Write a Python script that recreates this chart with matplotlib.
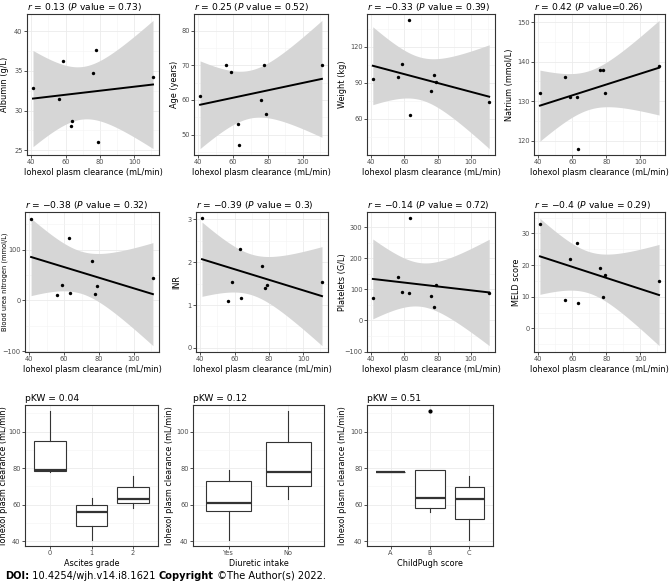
import numpy as np
import matplotlib.pyplot as plt

# iohexol plasma clearance (mL/min) for the 9 patients
clearance = np.array([41, 56, 58.5, 63, 63.5, 76, 78, 79, 111])

albumin = np.array([32.9, 31.5, 36.3, 28.1, 28.7, 34.7, 37.7, 26.0, 34.2])
age = np.array([61, 70, 68, 53, 47, 60, 70, 56, 70])
weight = np.array([93, 95, 106, 142, 63, 83, 97, 91, 74])
natrium = np.array([132, 136, 131, 131, 118, 138, 138, 132, 139])
bun = np.array([160, 11, 31, 122, 15, 78, 12, 28, 44])
inr = np.array([3.02, 1.10, 1.54, 2.30, 1.16, 1.92, 1.40, 1.47, 1.54])
platelets = np.array([72, 140, 90, 88, 328, 79, 42, 113, 88])
meld = np.array([33, 9, 22, 27, 8, 19, 10, 17, 15])

ascites = np.array(["1", "1", "2", "2", "1", "2", "0", "0", "0"])
diuretic = np.array(["Yes", "Yes", "Yes", "No", "Yes", "Yes", "No", "Yes", "No"])
childpugh = np.array(["C", "B", "B", "C", "B", "C", "A", "B", "B"])

scatter_panels = [
    (albumin, "Albumin (g/L)", "$r$ = 0.13 ($P$ value = 0.73)", [25, 30, 35, 40]),
    (age, "Age (years)", "$r$ = 0.25 ($P$ value = 0.52)", [50, 60, 70, 80]),
    (weight, "Weight (kg)", "$r$ = \u22120.33 ($P$ value = 0.39)", [30, 60, 90, 120]),
    (natrium, "Natrium (mmol/L)", "$r$ = 0.42 ($P$ value=0.26)", [120, 130, 140, 150]),
    (bun, "Blood urea nitrogen (mmol/L)", "$r$ = \u22120.38 ($P$ value = 0.32)", [-100, 0, 100]),
    (inr, "INR", "$r$ = \u22120.39 ($P$ value = 0.3)", [0, 1, 2, 3]),
    (platelets, "Platelets (G/L)", "$r$ = \u22120.14 ($P$ value = 0.72)", [-100, 0, 100, 200, 300]),
    (meld, "MELD score", "$r$ = \u22120.4 ($P$ value = 0.29)", [0, 10, 20, 30]),
]

box_panels = [
    (ascites, ["0", "1", "2"], "Ascites grade", "pKW = 0.04"),
    (diuretic, ["Yes", "No"], "Diuretic intake", "pKW = 0.12"),
    (childpugh, ["A", "B", "C"], "ChildPugh score", "pKW = 0.51"),
]

W, H = 669, 583
fig = plt.figure(figsize=(W / 100, H / 100), dpi=100)

# axes boxes in pixels: (left, right, top, bottom)
boxes = [
    (27, 159, 14, 155), (194, 328, 14, 155), (367, 495, 14, 155), (534, 665, 14, 155),
    (25, 159, 212, 352), (196, 328, 212, 352), (367, 495, 212, 352), (534, 665, 212, 352),
    (25, 158, 405, 546), (193, 324, 405, 546), (367, 493, 405, 546),
]
# right edge (px) of each rotated y label
ylab_x = [9, 179, 347, 514, 8, 181, 347, 521, 8, 174, 347]

LAB = 5.9
TIT = 6.6
TICK = 4.8

def make_ax(k):
    l, r, t, bt = boxes[k]
    ax = fig.add_axes([l / W, 1 - bt / H, (r - l) / W, (bt - t) / H])
    ax.yaxis.set_label_coords((ylab_x[k] - l) / (r - l), 0.5)
    return ax

def style(ax):
    for s in ax.spines.values():
        s.set_color("#333333")
        s.set_linewidth(0.8)
    ax.tick_params(which="major", length=2.2, width=0.6, color="#333333",
                   labelsize=TICK, labelcolor="#4D4D4D", pad=1.0)
    ax.tick_params(which="minor", length=0)
    ax.grid(which="major", color="#EBEBEB", linewidth=0.6)
    ax.grid(which="minor", color="#F4F4F4", linewidth=0.4)
    ax.set_axisbelow(True)

T_975 = 2.3646  # t quantile, df = 7

for i, (yv, ylab, title, yt) in enumerate(scatter_panels):
    ax = make_ax(i)
    style(ax)
    x = clearance
    n = len(x)
    b, a = np.polyfit(x, yv, 1)
    resid = yv - (a + b * x)
    s = np.sqrt(np.sum(resid ** 2) / (n - 2))
    xs = np.linspace(x.min(), x.max(), 80)
    fit = a + b * xs
    se = s * np.sqrt(1 / n + (xs - x.mean()) ** 2 / np.sum((x - x.mean()) ** 2))
    lo, hi = fit - T_975 * se, fit + T_975 * se
    ax.fill_between(xs, lo, hi, color="#D6D6D6", linewidth=0)
    ax.plot(xs, fit, color="black", linewidth=1.4)
    ax.scatter(x, yv, s=6, color="black", zorder=3, linewidths=0)
    ax.set_xticks([40, 60, 80, 100])
    ax.set_xticks([50, 70, 90, 110], minor=True)
    ax.set_yticks(yt)
    ax.set_yticklabels([str(v).replace("-", "\u2212") for v in yt])
    step = yt[1] - yt[0]
    ax.set_yticks([v + step / 2 for v in yt] + [yt[0] - step / 2], minor=True)
    # limits last: set_yticks would otherwise widen them
    ymin = min(yv.min(), lo.min())
    ymax = max(yv.max(), hi.max())
    pad = 0.05 * (ymax - ymin)
    ax.set_ylim(ymin - pad, ymax + pad)
    xpad = 0.05 * (x.max() - x.min())
    ax.set_xlim(x.min() - xpad, x.max() + xpad)
    ax.set_xlabel("Iohexol plasm clearance (mL/min)", fontsize=LAB, labelpad=1.5)
    # the long BUN label is set smaller in the original
    ax.set_ylabel(ylab, fontsize=4.8 if len(ylab) > 20 else LAB)
    ax.set_title(title, fontsize=TIT, loc="left", pad=3)

for j, (grp, cats, xlab, title) in enumerate(box_panels):
    ax = make_ax(8 + j)
    style(ax)
    data = [clearance[grp == c] for c in cats]
    ax.boxplot(data, positions=np.arange(1, len(cats) + 1), widths=0.75,
               patch_artist=True,
               boxprops=dict(facecolor="white", edgecolor="#333333", linewidth=0.8),
               medianprops=dict(color="#333333", linewidth=1.6),
               whiskerprops=dict(color="#333333", linewidth=0.8),
               capprops=dict(linewidth=0),
               flierprops=dict(marker="o", markersize=2, markerfacecolor="black",
                               markeredgecolor="black"))
    ax.set_xticks(np.arange(1, len(cats) + 1))
    ax.set_xticklabels(cats)
    ax.set_yticks([40, 60, 80, 100])
    ax.set_yticks([50, 70, 90, 110], minor=True)
    ax.set_xlim(0.4, len(cats) + 0.6)
    ax.set_ylim(37.5, 114.5)
    ax.set_xlabel(xlab, fontsize=LAB, labelpad=1.5)
    ax.set_ylabel("Iohexol plasm clearance (mL/min)", fontsize=LAB)
    ax.set_title(title, fontsize=TIT, loc="left", pad=3)

# footer: mixed bold / regular pieces laid out one after another
pieces = [("DOI:", "bold"), (" 10.4254/wjh.v14.i8.1621 ", "normal"),
          ("Copyright", "bold"), (" \u00a9The Author(s) 2022.", "normal")]
renderer = fig.canvas.get_renderer()
xpos = 5
for txt, wt in pieces:
    t = fig.text(xpos / W, 1 - 576 / H, txt, fontsize=7.1, fontweight=wt, va="center")
    xpos += t.get_window_extent(renderer).width

fig.savefig("out.png", dpi=100)
